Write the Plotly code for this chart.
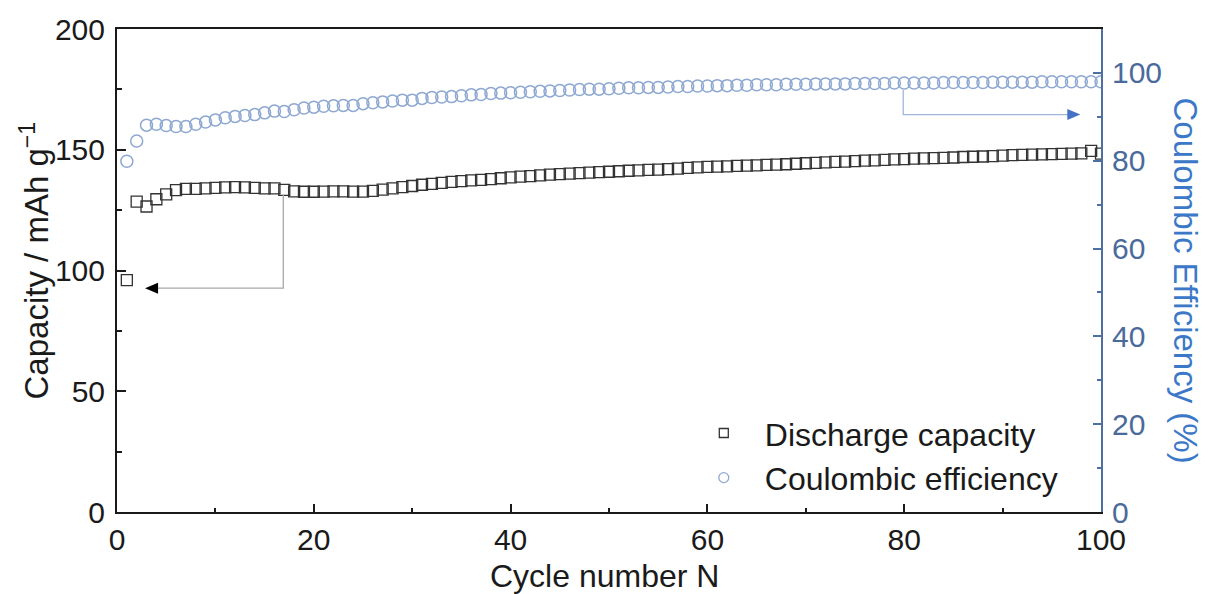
import plotly.graph_objects as go

# ---------------- data ----------------
cycles = list(range(1, 101))

discharge_capacity = [
    96.0, 128.5, 126.5, 129.5, 131.5, 133.3, 133.8, 133.8, 134.0, 134.2,
    134.4, 134.5, 134.4, 134.2, 134.0, 134.0, 133.4, 132.8, 132.6, 132.6,
    132.7, 132.8, 132.8, 132.7, 132.7, 133.0, 133.5, 134.0, 134.5, 135.0,
    135.5, 135.9, 136.3, 136.7, 137.0, 137.3, 137.5, 137.8, 138.2, 138.6,
    138.9, 139.1, 139.4, 139.7, 139.9, 140.1, 140.3, 140.5, 140.7, 140.9,
    141.1, 141.3, 141.5, 141.7, 141.8, 142.0, 142.2, 142.5, 142.7, 142.9,
    143.0, 143.1, 143.3, 143.4, 143.5, 143.7, 143.8, 144.0, 144.2, 144.4,
    144.6, 144.8, 145.0, 145.1, 145.3, 145.5, 145.6, 145.8, 146.0, 146.1,
    146.3, 146.4, 146.5, 146.6, 146.8, 147.0, 147.1, 147.2, 147.4, 147.6,
    147.8, 147.9, 148.0, 148.1, 148.2, 148.3, 148.4, 148.5, 149.5, 148.4,
]

coulombic_efficiency = [
    79.9, 84.5, 88.1, 88.3, 88.0, 87.8, 87.8, 88.3, 88.8, 89.3,
    89.8, 90.1, 90.3, 90.5, 90.9, 91.3, 91.2, 91.6, 92.0, 92.2,
    92.4, 92.5, 92.6, 92.6, 93.0, 93.2, 93.4, 93.6, 93.8, 93.8,
    94.2, 94.4, 94.5, 94.6, 94.8, 95.0, 95.1, 95.3, 95.4, 95.5,
    95.6, 95.7, 95.8, 95.9, 96.0, 96.1, 96.2, 96.3, 96.3, 96.4,
    96.5, 96.6, 96.6, 96.7, 96.7, 96.8, 96.9, 96.9, 97.0, 97.0,
    97.1, 97.1, 97.2, 97.2, 97.3, 97.3, 97.3, 97.4, 97.4, 97.4,
    97.5, 97.5, 97.5, 97.5, 97.6, 97.6, 97.6, 97.6, 97.7, 97.7,
    97.7, 97.7, 97.7, 97.8, 97.8, 97.8, 97.8, 97.8, 97.9, 97.9,
    97.9, 97.9, 97.9, 98.0, 98.0, 98.0, 98.0, 98.0, 98.0, 98.0,
]

x_ticks = [0, 20, 40, 60, 80, 100]
cap_ticks = [0, 50, 100, 150, 200]
ce_ticks = [0, 20, 40, 60, 80, 100]

# arrow guide positions (cycle, value) -> axis they point to
cap_arrow = dict(cycle=16.9, y_top=131.4, y_turn=92.7, tip=2.85)
ce_arrow = dict(cycle=79.9, y_top=96.1, y_turn=90.5, tip=97.9)

# ---------------- styles ----------------
FONT = "Liberation Sans, Arial, sans-serif"
BLACK = "#1a1a1a"
SQ_COLOR = "#333333"
CIRC_COLOR = "#8ea8d2"
AX2_COLOR = "#4d6fa3"
AX2_TICK = "#4a6a9c"
AX2_TITLE = "#3b78c8"
TITLE_SIZE = 32
TICK_SIZE = 30

fig = go.Figure()

fig.add_trace(go.Scatter(
    x=cycles, y=discharge_capacity, mode="markers", showlegend=False,
    marker=dict(symbol="square-open", size=11, color=SQ_COLOR, line=dict(width=1.3)),
    yaxis="y",
))
fig.add_trace(go.Scatter(
    x=cycles, y=coulombic_efficiency, mode="markers", showlegend=False,
    marker=dict(symbol="circle-open", size=12, color=CIRC_COLOR, line=dict(width=1.5)),
    yaxis="y2",
))
# legend-only entries (smaller symbols, as in the reference legend)
fig.add_trace(go.Scatter(
    x=[None], y=[None], mode="markers", name="Discharge capacity",
    marker=dict(symbol="square-open", size=9, color=SQ_COLOR, line=dict(width=1.3)),
))
fig.add_trace(go.Scatter(
    x=[None], y=[None], mode="markers", name="Coulombic efficiency",
    marker=dict(symbol="circle-open", size=10, color=CIRC_COLOR, line=dict(width=1.3)),
    yaxis="y2",
))

shapes = [
    # capacity guide: from the marker down and left to the left axis
    dict(type="path", xref="x", yref="y",
         path=f"M{cap_arrow['cycle']},{cap_arrow['y_top']} L{cap_arrow['cycle']},{cap_arrow['y_turn']} L{cap_arrow['tip'] + 1.0},{cap_arrow['y_turn']}",
         line=dict(color="#a8a8a8", width=1.3)),
    dict(type="path", xref="x", yref="y", xsizemode="pixel", ysizemode="pixel",
         xanchor=cap_arrow["tip"], yanchor=cap_arrow["y_turn"],
         path="M0,0 L13,5.5 L13,-5.5 Z", fillcolor="#000000", line=dict(width=0)),
    # CE guide: from the marker down and right to the right axis
    dict(type="path", xref="x", yref="y2",
         path=f"M{ce_arrow['cycle']},{ce_arrow['y_top']} L{ce_arrow['cycle']},{ce_arrow['y_turn']} L{ce_arrow['tip'] - 1.0},{ce_arrow['y_turn']}",
         line=dict(color="#9fb6dc", width=1.3)),
    dict(type="path", xref="x", yref="y2", xsizemode="pixel", ysizemode="pixel",
         xanchor=ce_arrow["tip"], yanchor=ce_arrow["y_turn"],
         path="M0,0 L-13,5.5 L-13,-5.5 Z", fillcolor="#4472c4", line=dict(width=0)),
]

annotations = [
    dict(text="Capacity / mAh g<sup>−1</sup>", xref="paper", yref="paper",
         x=0, y=0.5, xanchor="center", yanchor="middle", xshift=-83, yshift=10,
         textangle=-90, showarrow=False, font=dict(family=FONT, size=TITLE_SIZE + 1, color=BLACK)),
    dict(text="Coulombic Efficiency (%)", xref="paper", yref="paper",
         x=1, y=0.5, xanchor="center", yanchor="middle", xshift=84, yshift=-10,
         textangle=90, showarrow=False, font=dict(family=FONT, size=TITLE_SIZE + 1, color=AX2_TITLE)),
    dict(text="Cycle number N", xref="paper", yref="paper",
         x=0.5, y=0, xanchor="center", yanchor="middle", yshift=-64, xshift=-5,
         showarrow=False, font=dict(family=FONT, size=TITLE_SIZE, color=BLACK)),
]

fig.update_layout(
    width=1208, height=594,
    margin=dict(l=117, r=107, t=27, b=82),
    paper_bgcolor="white", plot_bgcolor="white",
    font=dict(family=FONT, color=BLACK),
    shapes=shapes, annotations=annotations,
    legend=dict(x=0.575, y=0.013, xanchor="left", yanchor="bottom",
                bgcolor="rgba(0,0,0,0)", font=dict(family=FONT, size=TITLE_SIZE, color=BLACK),
                itemsizing="trace", itemwidth=72, tracegroupgap=0),
    xaxis=dict(range=[0, 100], tickvals=x_ticks, ticks="inside", ticklen=8, tickwidth=1.5,
               tickcolor=BLACK, showline=True, linecolor=BLACK, linewidth=2, mirror=True,
               showgrid=False, zeroline=False, tickfont=dict(family=FONT, size=TICK_SIZE, color=BLACK),
               minor=dict(tickvals=[10, 30, 50, 70, 90], ticks="inside", ticklen=4,
                          tickwidth=1.5, tickcolor=BLACK)),
    yaxis=dict(range=[0, 200], tickvals=cap_ticks, ticks="inside", ticklen=9, tickwidth=1.5,
               tickcolor=BLACK, showline=True, linecolor=BLACK, linewidth=2,
               showgrid=False, zeroline=False, ticklabelstandoff=4,
               tickfont=dict(family=FONT, size=TICK_SIZE, color=BLACK),
               minor=dict(tickvals=[25, 75, 125, 175], ticks="inside", ticklen=5,
                          tickwidth=1.5, tickcolor=BLACK)),
    yaxis2=dict(range=[0, 110], tickvals=ce_ticks, overlaying="y", side="right",
                ticks="inside", ticklen=8, tickwidth=1.5, tickcolor=AX2_COLOR,
                showline=True, linecolor=AX2_COLOR, linewidth=2, ticklabelstandoff=3,
                showgrid=False, zeroline=False,
                tickfont=dict(family=FONT, size=TICK_SIZE, color=AX2_TICK),
                minor=dict(tickvals=[10, 30, 50, 70, 90], ticks="inside", ticklen=4,
                           tickwidth=1.5, tickcolor=AX2_COLOR)),
)

fig.write_html("out.html")
